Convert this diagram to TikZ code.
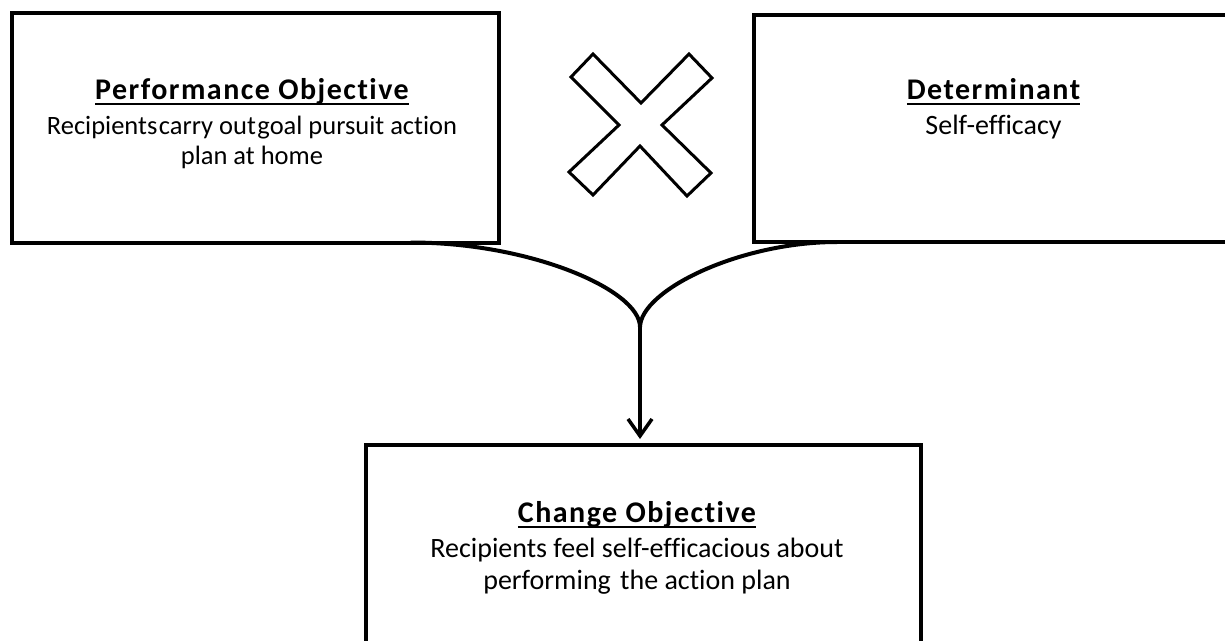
\documentclass[tikz,border=0pt]{standalone}
\usepackage{fontspec}
\setmainfont{Carlito}[Ligatures=NoCommon]
\usetikzlibrary{arrows.meta}
\newcommand\myul[1]{\setbox0\hbox{#1}\rlap{\rule[-6pt]{\wd0}{2pt}}\box0}
\begin{document}
\begin{tikzpicture}[x=1pt,y=-1pt,
  box/.style={draw,line width=4pt,inner sep=0pt},
  title/.style={font=\fontsize{30}{34}\selectfont\bfseries\addfontfeatures{LetterSpace=5},inner sep=0pt,anchor=base},
  body/.style={font=\fontsize{28}{32}\selectfont,inner sep=0pt,anchor=base},
  smallbody/.style={body,font=\fontsize{26.5}{30}\selectfont},
  link/.style={line width=4pt},
]
\useasboundingbox (0,0) rectangle (1225,640);
\begin{scope}
\clip (0,0) rectangle (1225,640);
% boxes
\node[box,minimum width=487pt,minimum height=230pt] (po) at (255.5,127.5) {};
\node[box,minimum width=478pt,minimum height=227pt] (dt) at (993,128.5) {};
\node[box,minimum width=555pt,minimum height=300pt] (co) at (643.5,594.5) {};
% texts
\node[title] (potitle) at (252,99) {\myul{Performance Objective}};
\node[smallbody] (pobody1) at (252,134) {Recipients\hspace{1.5pt}carry out\hspace{1.5pt}goal pursuit action};
\node[smallbody] (pobody2) at (252,164) {plan at home};
\node[title] (dttitle) at (993.5,99) {\myul{Determinant}};
\node[body] (dtbody1) at (993.5,134) {Self-efficacy};
\node[title] (cotitle) at (637,522) {\myul{Change Objective}};
\node[body] (cobody1) at (637,557) {Recipients feel self-efficacious about};
\node[body] (cobody2) at (637,589) {performing\hspace{3pt} the action plan};
% cross
\draw[line width=3pt,line join=miter] (593,54) -- (641,103) -- (689,54) -- (712,78) -- (662,125) -- (711,173) -- (687,196) -- (640,146) -- (593,195) -- (569,172) -- (619,125) -- (571,77) -- cycle;
% connectors
\coordinate (merge) at (640,327);
\path (co.north -| merge) ++(0,-3.5) coordinate (tip);
\draw[link] ([xshift=155pt,yshift=2pt]po.south) .. controls +(120,0) and +(0,-37) .. (merge);
\draw[link] ([xshift=-156pt,yshift=2pt]dt.south) .. controls +(-97,0) and +(1,-37) .. (merge);
\draw[line width=3.5pt,-{Straight Barb[length=17pt,width=24pt]}] (merge) -- (tip);
\end{scope}
\end{tikzpicture}
\end{document}
